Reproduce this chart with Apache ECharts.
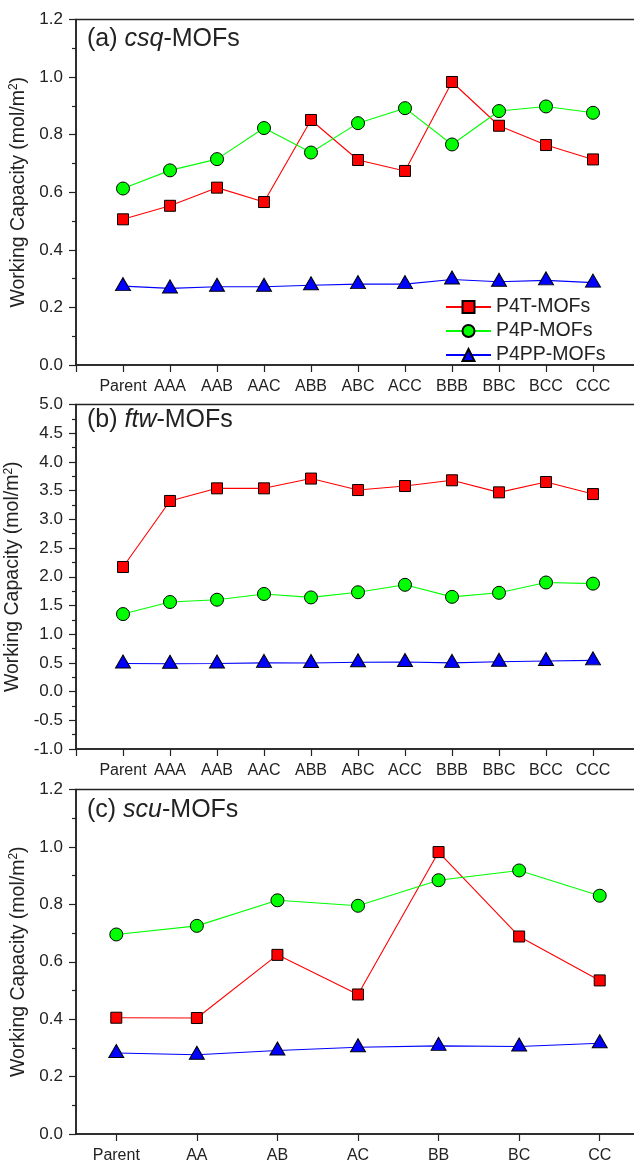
<!DOCTYPE html>
<html>
<head>
<meta charset="utf-8">
<script src="https://cdn.jsdelivr.net/npm/echarts@6/dist/echarts.min.js"></script>
<style>
  html, body { margin: 0; padding: 0; background: #ffffff; }
  #chart { width: 634px; height: 1161px; }
</style>
</head>
<body>
<div id="chart"></div>
<script>
// Working capacity (mol/m^2) of three MOF families with P4T / P4P / P4PP linkers

// (a) csq-MOFs
const csqCategories = ['Parent', 'AAA', 'AAB', 'AAC', 'ABB', 'ABC', 'ACC', 'BBB', 'BBC', 'BCC', 'CCC'];
const csqP4T  = [0.506, 0.553, 0.616, 0.566, 0.851, 0.712, 0.674, 0.983, 0.831, 0.764, 0.714];
const csqP4P  = [0.613, 0.676, 0.715, 0.823, 0.738, 0.840, 0.892, 0.766, 0.882, 0.898, 0.876];
const csqP4PP = [0.274, 0.266, 0.272, 0.272, 0.277, 0.281, 0.281, 0.297, 0.289, 0.294, 0.286];

// (b) ftw-MOFs
const ftwCategories = ['Parent', 'AAA', 'AAB', 'AAC', 'ABB', 'ABC', 'ACC', 'BBB', 'BBC', 'BCC', 'CCC'];
const ftwP4T  = [2.17, 3.32, 3.54, 3.54, 3.71, 3.51, 3.58, 3.68, 3.47, 3.65, 3.44];
const ftwP4P  = [1.35, 1.56, 1.60, 1.70, 1.64, 1.73, 1.86, 1.65, 1.72, 1.90, 1.88];
const ftwP4PP = [0.49, 0.485, 0.49, 0.50, 0.497, 0.51, 0.515, 0.50, 0.52, 0.532, 0.544];

// (c) scu-MOFs
const scuCategories = ['Parent', 'AA', 'AB', 'AC', 'BB', 'BC', 'CC'];
const scuP4T  = [0.405, 0.404, 0.624, 0.486, 0.982, 0.688, 0.535];
const scuP4P  = [0.695, 0.725, 0.814, 0.795, 0.884, 0.918, 0.830];
const scuP4PP = [0.282, 0.276, 0.291, 0.302, 0.307, 0.305, 0.316];

// y-axis ranges per panel: [min, max, interval]
const csqRange = [0, 1.2, 0.2];
const ftwRange = [-1, 5, 0.5];
const scuRange = [0, 1.2, 0.2];

const seriesNames = ['P4T-MOFs', 'P4P-MOFs', 'P4PP-MOFs'];
const panelTitles = [['(a) ', 'csq', '-MOFs'], ['(b) ', 'ftw', '-MOFs'], ['(c) ', 'scu', '-MOFs']];

const FONT = '"Liberation Sans", Arial, Helvetica, sans-serif';
const AXIS = '#222222';
const LINE_COLORS = ['#ff0000', '#00ff00', '#0000ff'];
const SYMBOLS = [
  { symbol: 'rect', symbolSize: 11, symbolOffset: [0, 0] },
  { symbol: 'circle', symbolSize: 13, symbolOffset: [0, 0] },
  { symbol: 'triangle', symbolSize: [15, 13], symbolOffset: [0, -2] }
];

// the frame runs slightly past the right edge of the page
const grids = [
  { left: 76, right: -6, top: 19.5, bottom: 796 },
  { left: 76, right: -6, top: 404.5, bottom: 412 },
  { left: 76, right: -6, top: 789.5, bottom: 27 }
].map(g => Object.assign(g, {
  show: true, borderColor: AXIS, borderWidth: 1.5, backgroundColor: 'transparent',
  containLabel: false, outerBoundsMode: 'none'
}));

const tickCommon = {
  axisLine: { show: true, onZero: false, lineStyle: { color: AXIS, width: 1.5 } },
  axisTick: { show: true, inside: false, length: 7, lineStyle: { color: AXIS, width: 1.2 } },
  splitLine: { show: false }
};

function indexedXAxis(gridIndex, cats) {
  return Object.assign({
    gridIndex, type: 'value', min: 0, max: cats.length + 1, interval: 1,
    axisLabel: {
      fontFamily: FONT, fontSize: 16, color: AXIS, margin: 14,
      showMinLabel: true, showMaxLabel: true,
      formatter: v => cats[v - 1] || ''
    }
  }, tickCommon);
}

function categoryXAxis(gridIndex, cats) {
  const ax = Object.assign({
    gridIndex, type: 'category', data: cats, boundaryGap: true,
    axisLabel: { fontFamily: FONT, fontSize: 16, color: AXIS, margin: 14, interval: 0 }
  }, tickCommon);
  ax.axisTick = Object.assign({}, tickCommon.axisTick, { alignWithLabel: true, interval: 0 });
  return ax;
}

function yAxis(gridIndex, range) {
  return Object.assign({
    gridIndex, type: 'value', min: range[0], max: range[1], interval: range[2],
    minorTick: { show: true, splitNumber: 2, length: 4, lineStyle: { color: AXIS, width: 1.2 } },
    axisLabel: {
      fontFamily: FONT, fontSize: 17, color: AXIS, margin: 13,
      formatter: v => v.toFixed(1)
    },
    name: '{t|Working Capacity (mol/m}{s|2}{t|)}',
    nameLocation: 'middle', nameGap: 40,
    nameTextStyle: {
      rich: {
        t: { fontFamily: FONT, fontSize: 19.5, color: AXIS },
        s: { fontFamily: FONT, fontSize: 12, color: AXIS, verticalAlign: 'top', padding: [0, 0, 9, 0] }
      }
    }
  }, tickCommon);
}

function panelSeries(panel, values, indexed) {
  return values.map((vals, k) => ({
    name: seriesNames[k],
    type: 'line',
    xAxisIndex: panel, yAxisIndex: panel,
    data: indexed ? vals.map((v, i) => [i + 1, v]) : vals,
    symbol: SYMBOLS[k].symbol,
    symbolSize: SYMBOLS[k].symbolSize,
    symbolOffset: SYMBOLS[k].symbolOffset,
    showAllSymbol: true,
    lineStyle: { color: LINE_COLORS[k], width: 1.1 },
    itemStyle: { color: LINE_COLORS[k], borderColor: '#000000', borderWidth: 1 },
    emphasis: { disabled: true },
    animation: false,
    z: 3 + k
  }));
}

const titleTops = [27, 408, 798];
const titles = panelTitles.map((p, i) => ({
  left: 87, top: titleTops[i], padding: 0,
  text: '{n|' + p[0] + '}{i|' + p[1] + '}{n|' + p[2] + '}',
  textStyle: {
    fontWeight: 'normal',
    rich: {
      n: { fontFamily: FONT, fontSize: 25, color: AXIS, fontWeight: 'normal' },
      i: { fontFamily: FONT, fontSize: 25, color: AXIS, fontWeight: 'normal', fontStyle: 'italic' }
    }
  }
}));

const option = {
  animation: false,
  backgroundColor: '#ffffff',
  title: titles,
  legend: {
    data: seriesNames,
    orient: 'vertical',
    left: 440, top: 292,
    itemWidth: 45, itemHeight: 15, itemGap: 4,
    selectedMode: false,
    textStyle: { fontFamily: FONT, fontSize: 19.5, color: AXIS }
  },
  grid: grids,
  xAxis: [
    indexedXAxis(0, csqCategories),
    indexedXAxis(1, ftwCategories),
    categoryXAxis(2, scuCategories)
  ],
  yAxis: [yAxis(0, csqRange), yAxis(1, ftwRange), yAxis(2, scuRange)],
  series: [].concat(
    panelSeries(0, [csqP4T, csqP4P, csqP4PP], true),
    panelSeries(1, [ftwP4T, ftwP4P, ftwP4PP], true),
    panelSeries(2, [scuP4T, scuP4P, scuP4PP], false)
  )
};

const chart = echarts.init(document.getElementById('chart'), null, { renderer: 'canvas' });
chart.setOption(option);
</script>
</body>
</html>
